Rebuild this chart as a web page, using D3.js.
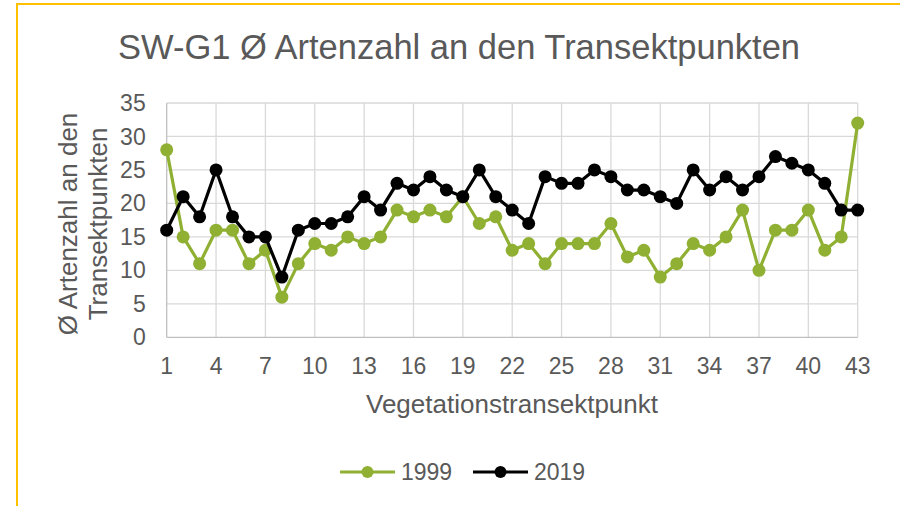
<!DOCTYPE html>
<html>
<head>
<meta charset="UTF-8">
<title>SW-G1 Artenzahl</title>
<style>
    body { margin: 0; padding: 0; background: #fff; }
    svg { display: block; }
    text { font-family: "Liberation Sans", Arial, sans-serif; fill: #595959; }
</style>
</head>
<body>
<svg width="900" height="506"></svg>
<script src="https://cdn.jsdelivr.net/npm/d3@7"></script>
<script>
// Vegetationstransektpunkte 1..43
var punkte = d3.range(1, 44);
var werte1999 = [28,15,11,16,16,11,13,6,11,14,13,15,14,15,19,18,19,18,21,17,18,13,14,11,14,14,14,17,12,13,9,11,14,13,15,19,10,16,16,19,13,15,32];
var werte2019 = [16,21,18,25,18,15,15,9,16,17,17,18,21,19,23,22,24,22,21,25,21,19,17,24,23,23,25,24,22,22,21,20,25,22,24,22,24,27,26,25,23,19,19];
var xTicks = d3.range(1, 44, 3);
var yTicks = [0,5,10,15,20,25,30,35];
var serien = [
    {name: "1999", values: werte1999, color: "#8fb032"},
    {name: "2019", values: werte2019, color: "#000000"}
];

var svg = d3.select("svg"),
    margin = {left: 166.7, right: 900 - 857.7, top: 103, bottom: 506 - 337.3},
    width = 900 - margin.left - margin.right,
    height = 506 - margin.top - margin.bottom;

// border
svg.append("rect")
    .attr("x", 17).attr("y", 4)
    .attr("width", 900).attr("height", 520)
    .attr("fill", "none")
    .attr("stroke", "#ffc000")
    .attr("stroke-width", 2);

// title
svg.append("text")
    .attr("x", 459).attr("y", 59)
    .attr("text-anchor", "middle")
    .style("font-size", "34.5px")
    .text("SW-G1 Ø Artenzahl an den Transektpunkten");

var g = svg.append("g").attr("transform", "translate(" + margin.left + "," + margin.top + ")");

var x = d3.scaleLinear().domain([1, 43]).range([0, width]);
var y = d3.scaleLinear().domain([0, 35]).range([height, 0]);

// grid
g.append("g").selectAll("line")
    .data(yTicks.slice(1))
    .enter().append("line")
    .attr("x1", 0).attr("x2", width)
    .attr("y1", function (d) { return y(d); })
    .attr("y2", function (d) { return y(d); })
    .attr("stroke", "#d9d9d9").attr("stroke-width", 1.3);
g.append("g").selectAll("line")
    .data(xTicks.slice(1))
    .enter().append("line")
    .attr("y1", 0).attr("y2", height)
    .attr("x1", function (d) { return x(d); })
    .attr("x2", function (d) { return x(d); })
    .attr("stroke", "#d9d9d9").attr("stroke-width", 1.3);

// axis lines
g.append("line").attr("x1", 0).attr("x2", 0).attr("y1", 0).attr("y2", height)
    .attr("stroke", "#bfbfbf").attr("stroke-width", 1.3);
g.append("line").attr("x1", 0).attr("x2", width).attr("y1", height).attr("y2", height)
    .attr("stroke", "#bfbfbf").attr("stroke-width", 1.3);

// tick labels
g.append("g").selectAll("text")
    .data(yTicks)
    .enter().append("text")
    .attr("x", -21)
    .attr("y", function (d) { return y(d); })
    .attr("dy", "0.35em")
    .attr("text-anchor", "end")
    .style("font-size", "23px")
    .text(function (d) { return d; });
g.append("g").selectAll("text")
    .data(xTicks)
    .enter().append("text")
    .attr("x", function (d) { return x(d); })
    .attr("y", height + 37)
    .attr("text-anchor", "middle")
    .style("font-size", "23px")
    .text(function (d) { return d; });

// axis titles
svg.append("text")
    .attr("x", 512).attr("y", 413)
    .attr("text-anchor", "middle")
    .style("font-size", "26px")
    .text("Vegetationstransektpunkt");
var yt = svg.append("text")
    .attr("transform", "translate(77,224) rotate(-90)")
    .attr("text-anchor", "middle")
    .style("font-size", "26px");
yt.append("tspan").attr("x", 0).attr("y", 0).text("Ø Artenzahl an den");
yt.append("tspan").attr("x", 0).attr("y", 30).text("Transektpunkten");

// series
var line = d3.line()
    .x(function (d, i) { return x(punkte[i]); })
    .y(function (d) { return y(d); });

serien.forEach(function (s) {
    g.append("path")
        .datum(s.values)
        .attr("d", line)
        .attr("fill", "none")
        .attr("stroke", s.color)
        .attr("stroke-width", 3.2)
        .attr("stroke-linejoin", "round");
    g.append("g").selectAll("circle")
        .data(s.values)
        .enter().append("circle")
        .attr("cx", function (d, i) { return x(punkte[i]); })
        .attr("cy", function (d) { return y(d); })
        .attr("r", 6.5)
        .attr("fill", s.color);
});

// legend
var legend = svg.append("g").selectAll("g")
    .data(serien)
    .enter().append("g")
    .attr("transform", function (d, i) { return "translate(" + (340 + i * 133) + ",472)"; });
legend.append("line")
    .attr("x1", 0).attr("x2", 55)
    .attr("stroke", function (d) { return d.color; })
    .attr("stroke-width", 3.2);
legend.append("circle")
    .attr("cx", 27.5).attr("r", 6)
    .attr("fill", function (d) { return d.color; });
legend.append("text")
    .attr("x", 61).attr("dy", "0.35em")
    .style("font-size", "23px")
    .text(function (d) { return d.name; });
</script>
</body>
</html>
